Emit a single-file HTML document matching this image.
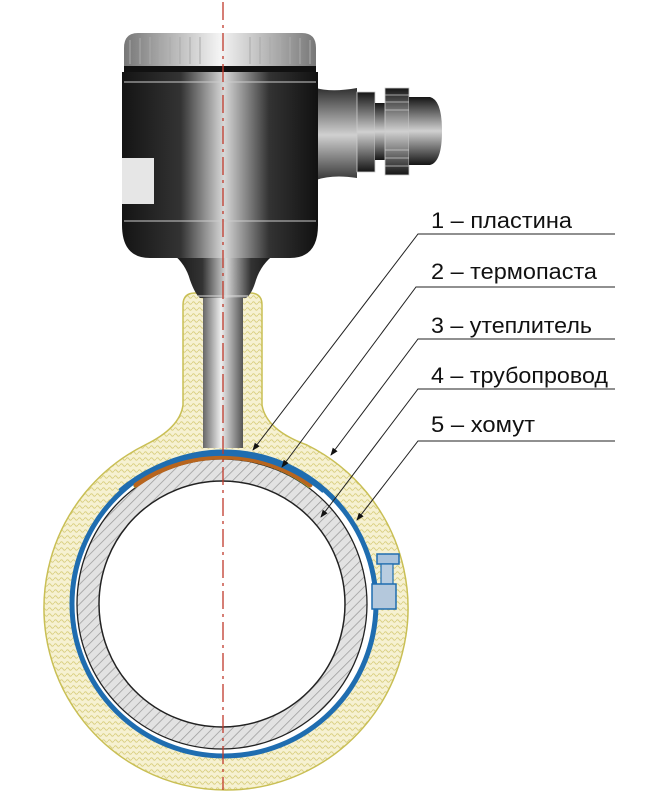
<!DOCTYPE html>
<html><head><meta charset="utf-8"><style>
html,body{margin:0;padding:0;background:#fff;width:662px;height:800px;overflow:hidden}
svg{display:block}
text{font-family:"Liberation Sans",sans-serif;font-size:22px;fill:#111}
</style></head><body>
<svg width="662" height="800" viewBox="0 0 662 800" xmlns="http://www.w3.org/2000/svg">
<defs>
<linearGradient id="hg" x1="0" x2="1" y1="0" y2="0">
<stop offset="0" stop-color="#141414"/><stop offset="0.3" stop-color="#333"/><stop offset="0.52" stop-color="#d8d8d8"/><stop offset="0.75" stop-color="#333"/><stop offset="1" stop-color="#111"/>
</linearGradient>
<linearGradient id="vg" x1="0" x2="0" y1="0" y2="1">
<stop offset="0" stop-color="#151515"/><stop offset="0.5" stop-color="#d0d0d0"/><stop offset="1" stop-color="#151515"/>
</linearGradient>
<linearGradient id="sg" x1="0" x2="1" y1="0" y2="0">
<stop offset="0" stop-color="#666"/><stop offset="0.45" stop-color="#eee"/><stop offset="1" stop-color="#555"/>
</linearGradient>
<linearGradient id="cg" x1="0" x2="1">
<stop offset="0" stop-color="#777"/><stop offset="0.5" stop-color="#f4f4f4"/><stop offset="1" stop-color="#777"/>
</linearGradient>
<pattern id="wv" width="6" height="6" patternUnits="userSpaceOnUse">
<rect width="6" height="6" fill="#f6f1d2"/>
<path d="M0 3 Q1.5 0.5 3 3 T6 3" fill="none" stroke="#d9cf80" stroke-width="0.9"/>
</pattern>
<pattern id="hat" width="7" height="7" patternUnits="userSpaceOnUse" patternTransform="rotate(45)">
<rect width="7" height="7" fill="#e2e2e2"/>
<line x1="0" y1="0" x2="0" y2="7" stroke="#9a9a9a" stroke-width="1.5"/>
</pattern>
<marker id="ar" markerWidth="8" markerHeight="8" refX="7" refY="4" orient="auto" markerUnits="userSpaceOnUse">
<path d="M0 1 L8 4 L0 7 Z" fill="#111"/>
</marker>
</defs>

<path d="M183 305 Q183 293 195 293 L250 293 Q262 293 262 305 L262 405 Q266 430 307 445 A182 182 0 1 1 145 445 Q180 428 183 405 Z" fill="url(#wv)" stroke="#c9bf55" stroke-width="1.5"/>
<circle cx="224" cy="604" r="151" fill="#fff"/>
<circle cx="224" cy="604" r="152" fill="none" stroke="#1f6db0" stroke-width="5"/>
<circle cx="222" cy="604" r="134" fill="none" stroke="url(#hat)" stroke-width="22"/>
<circle cx="222" cy="604" r="145" fill="none" stroke="#222" stroke-width="1.3"/>
<circle cx="222" cy="604" r="123" fill="#fff" stroke="#222" stroke-width="1.5"/>
<path d="M134 487 A146 146 0 0 1 310 487" fill="none" stroke="#8db43a" stroke-width="3"/>
<path d="M136 485 A149 149 0 0 1 310 485" fill="none" stroke="#b8651e" stroke-width="5" stroke-linecap="round"/>
<path d="M120 491 A157 157 0 0 1 324 491" fill="none" stroke="#1f6db0" stroke-width="5"/>
<rect x="377" y="554" width="22" height="10" fill="#a9c3dc" stroke="#1f6db0" stroke-width="1.5"/>
<rect x="381" y="564" width="12" height="22" fill="#b9cde0" stroke="#1f6db0" stroke-width="1.2"/>
<rect x="372" y="584" width="24" height="25" fill="#b4c8dc" stroke="#1f6db0" stroke-width="1.5"/>

<rect x="203" y="262" width="40" height="186" fill="url(#sg)"/>
<path d="M170 252 Q185 262 190 280 Q195 294 200 298 L246 298 Q252 294 256 280 Q262 262 278 252 Z" fill="url(#hg)"/>
<line x1="198" y1="296" x2="248" y2="296" stroke="#ddd" stroke-width="1"/>
<path d="M300 80 Q318 95 357 88 L357 178 Q318 172 300 190 Z" fill="url(#vg)"/>
<path d="M312 90 Q300 130 312 172" fill="none" stroke="#ccc" stroke-width="1"/>
<rect x="357" y="92" width="18" height="80" fill="url(#vg)" stroke="#ccc" stroke-width="0.8"/>
<rect x="375" y="103" width="10" height="57" fill="url(#vg)"/>
<rect x="385" y="88" width="24" height="87" fill="url(#vg)" stroke="#ccc" stroke-width="0.8"/>
<g stroke="#ccc" stroke-width="0.8">
<line x1="385" y1="95" x2="409" y2="95"/><line x1="385" y1="102" x2="409" y2="102"/><line x1="385" y1="110" x2="409" y2="110"/>
<line x1="385" y1="150" x2="409" y2="150"/><line x1="385" y1="158" x2="409" y2="158"/><line x1="385" y1="166" x2="409" y2="166"/>
</g>
<path d="M409 97 L430 97 Q442 100 442 131 Q442 162 430 165 L409 165 Z" fill="url(#vg)"/>
<path d="M122 72 L318 72 L318 225 Q318 258 290 258 L150 258 Q122 258 122 225 Z" fill="url(#hg)"/>
<line x1="124" y1="82" x2="316" y2="82" stroke="#ccc" stroke-width="1"/>
<line x1="124" y1="221" x2="316" y2="221" stroke="#ccc" stroke-width="1"/>
<rect x="122" y="158" width="32" height="46" fill="#e6e6e6"/>
<path d="M124 48 Q124 33 138 33 L302 33 Q316 33 316 48 L316 66 L124 66 Z" fill="url(#cg)"/>
<g stroke="#aaa" stroke-width="1">
<line x1="130" y1="40" x2="130" y2="64"/><line x1="140" y1="38" x2="140" y2="64"/><line x1="150" y1="37" x2="150" y2="64"/><line x1="160" y1="37" x2="160" y2="64"/><line x1="170" y1="37" x2="170" y2="64"/><line x1="180" y1="37" x2="180" y2="64"/><line x1="190" y1="37" x2="190" y2="64"/><line x1="200" y1="37" x2="200" y2="64"/>
<line x1="250" y1="37" x2="250" y2="64"/><line x1="260" y1="37" x2="260" y2="64"/><line x1="270" y1="37" x2="270" y2="64"/><line x1="280" y1="37" x2="280" y2="64"/><line x1="290" y1="37" x2="290" y2="64"/><line x1="300" y1="38" x2="300" y2="64"/><line x1="310" y1="40" x2="310" y2="64"/>
</g>
<rect x="124" y="66" width="192" height="6" fill="#111"/>

<line x1="223" y1="2" x2="223" y2="790" stroke="#c0392b" stroke-width="1.3" stroke-dasharray="18 5 3 5"/>

<g stroke="#222" stroke-width="1" fill="none">
<polyline points="615,234 418,234 253,450" marker-end="url(#ar)"/>
<polyline points="615,287 416,287 282,467" marker-end="url(#ar)"/>
<polyline points="615,339 418,339 331,455" marker-end="url(#ar)"/>
<polyline points="615,389 418,389 321,517" marker-end="url(#ar)"/>
<polyline points="615,441 418,441 357,520" marker-end="url(#ar)"/>
</g>
<text x="431" y="228" textLength="141" lengthAdjust="spacingAndGlyphs">1 – пластина</text>
<text x="431" y="279" textLength="166" lengthAdjust="spacingAndGlyphs">2 – термопаста</text>
<text x="431" y="333" textLength="161" lengthAdjust="spacingAndGlyphs">3 – утеплитель</text>
<text x="431" y="383" textLength="177" lengthAdjust="spacingAndGlyphs">4 – трубопровод</text>
<text x="431" y="432" textLength="104" lengthAdjust="spacingAndGlyphs">5 – хомут</text>
</svg>
</body></html>
